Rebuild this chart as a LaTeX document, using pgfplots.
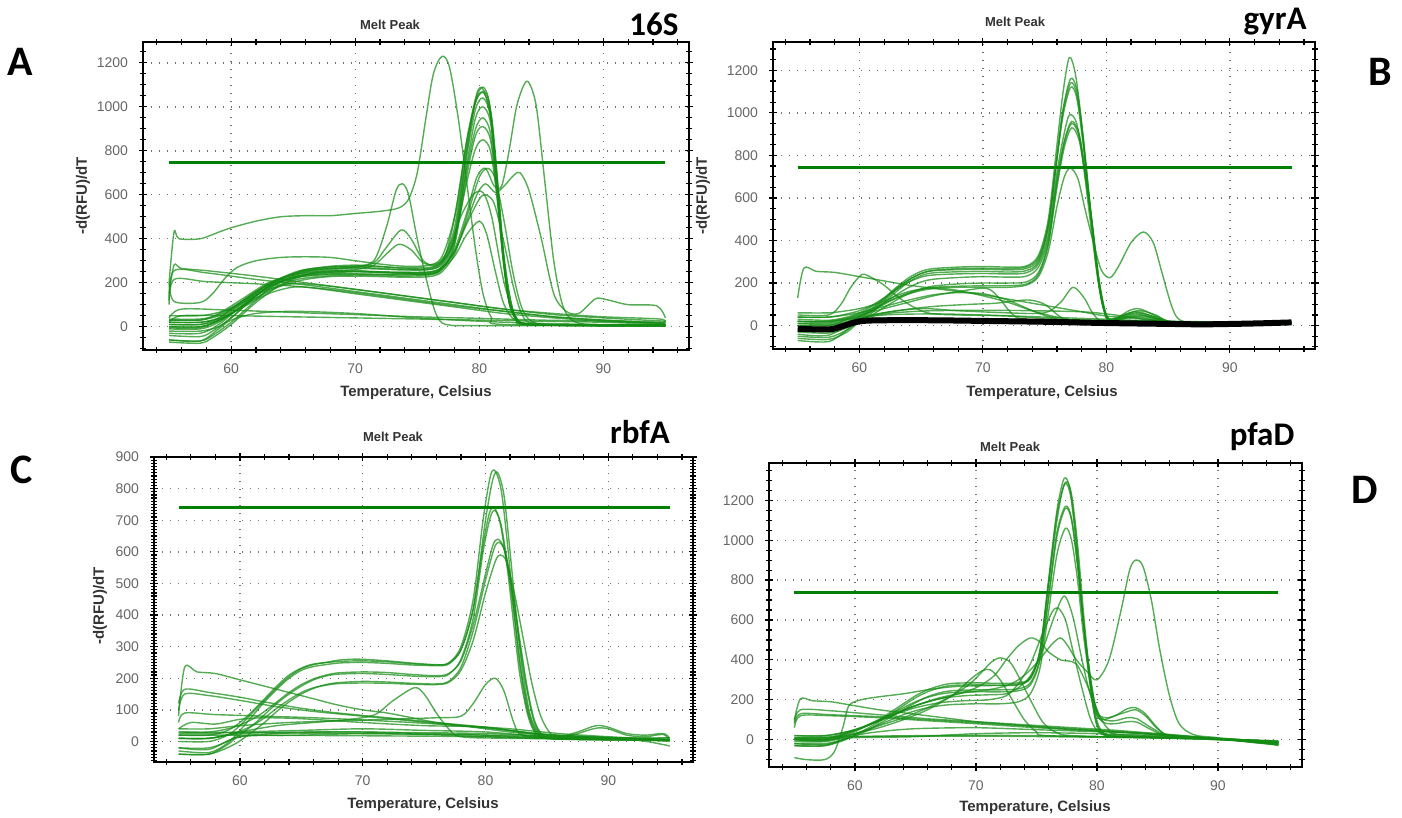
\documentclass[border=0pt]{standalone}
\usepackage{fontspec}
\setmainfont{Liberation Sans}
\newfontfamily\calib{Carlito}
\usepackage{pgfplots}
\pgfplotsset{compat=1.18}
\definecolor{cg}{RGB}{20,140,20}
\definecolor{thr}{RGB}{0,128,0}
\pgfplotsset{
 melt/.style={
  scale only axis, anchor=south west,
  axis line style={line width=0.8pt, black},
  every tick/.style={black, line width=0.6pt},
  tick align=center,
  major tick length=4pt, minor tick length=2.6pt,
  xtick={60,70,80,90}, minor xtick={54,56,...,96},
  grid=major,
  major grid style={black!55, line width=0.7pt, dash pattern=on 0.7pt off 3.3pt},
  ticklabel style={font=\fontsize{7}{8}\selectfont, text=black!60},
  xticklabel style={yshift=-1.5pt},
  yticklabel style={xshift=-2pt},
  /pgf/number format/assume math mode=true,
  /pgf/number format/1000 sep={},
 },
 cv/.style={draw=cg, line width=0.7pt, opacity=0.72, smooth, no markers},
 th/.style={draw=thr, line width=1.5pt, no markers},
}
\begin{document}
\begin{tikzpicture}
\path[use as bounding box] (0,0) rectangle (701pt,-409pt);
% ================= A =================
\begin{axis}[melt, at={(71.5pt,-175pt)}, width=273pt, height=154pt,
 xmin=52.9, xmax=96.9, ymin=-106, ymax=1295,
 ytick={0,200,...,1200}, minor ytick={-100,-50,...,1250}]
\addplot[cv] coordinates {(55,30)(57.5,30)(59,50)(60,80)(61,120)(62,160)(63,195)(64,220)(65,240)(66,255)(68,265)(70,270)(72,265)(74,260)(76,262)(77,290)(78,420)(79,800)(79.7,1030)(80.3,1090)(80.8,1020)(81.3,750)(81.8,400)(82.3,150)(82.8,50)(83.5,15)(86,8)(90,8)(95,8)};
\addplot[cv] coordinates {(55,-40)(57.5,-45)(58.5,-20)(60,40)(61,90)(62,140)(63,185)(64,215)(65,240)(66,260)(68,275)(70,280)(72,275)(74,265)(76,265)(77,300)(78,450)(79,820)(79.7,1020)(80.4,1070)(80.9,990)(81.4,700)(81.9,350)(82.4,120)(83,35)(84,10)(90,5)(95,5)};
\addplot[cv] coordinates {(55,0)(57.5,0)(59,25)(60,60)(61,100)(62,140)(63,175)(64,200)(65,220)(66,235)(68,245)(70,250)(72,248)(74,245)(76,248)(77,275)(78,400)(79,780)(79.7,990)(80.3,1040)(80.9,960)(81.4,680)(81.9,340)(82.4,120)(83,35)(84,10)(90,5)(95,5)};
\addplot[cv] coordinates {(55,50)(57.5,50)(59,65)(60,85)(61,115)(62,150)(63,180)(64,205)(65,220)(66,230)(68,238)(70,240)(72,238)(74,235)(76,240)(77,265)(78,380)(79,740)(79.7,950)(80.3,1000)(80.9,930)(81.4,670)(81.9,340)(82.4,120)(83,35)(84,10)(90,5)(95,5)};
\addplot[cv] coordinates {(55,-60)(57.5,-65)(58.5,-40)(60,20)(61,70)(62,120)(63,170)(64,205)(65,230)(66,248)(68,260)(70,265)(72,262)(74,258)(76,260)(77,285)(78,400)(79,720)(79.7,900)(80.3,950)(80.9,880)(81.4,630)(81.9,320)(82.4,110)(83,30)(84,10)(90,5)(95,5)};
\addplot[cv] coordinates {(55,20)(57.5,20)(59,35)(60,60)(61,95)(62,130)(63,165)(64,190)(65,210)(66,222)(68,232)(70,235)(72,233)(74,230)(76,235)(77,260)(78,370)(79,690)(79.7,870)(80.3,910)(80.9,850)(81.4,620)(81.9,320)(82.4,110)(83,30)(84,10)(90,5)(95,5)};
\addplot[cv] coordinates {(55,-20)(57.5,-20)(59,0)(60,40)(61,90)(62,140)(63,185)(64,220)(65,245)(66,260)(68,272)(70,275)(72,272)(74,268)(76,270)(77,295)(78,400)(79,660)(79.7,810)(80.3,850)(80.9,800)(81.4,600)(81.9,320)(82.4,120)(83,40)(84,10)(90,5)(95,5)};
\addplot[cv] coordinates {(55,10)(57.5,10)(59,30)(60,60)(62,130)(64,185)(66,215)(68,228)(70,230)(72,228)(74,225)(76,228)(77,250)(78,330)(79,500)(80,680)(80.7,720)(81.3,670)(82,480)(82.7,250)(83.4,90)(84.2,25)(86,8)(95,5)};
\addplot[cv] coordinates {(55,-70)(57.5,-75)(58.5,-50)(60,10)(62,110)(64,190)(66,235)(68,250)(70,252)(72,250)(74,248)(76,250)(77,270)(78,340)(79,470)(80,580)(80.5,600)(81.2,560)(82,380)(82.8,170)(83.5,50)(84.5,15)(90,5)(95,5)};
\addplot[cv] coordinates {(55,35)(57.5,35)(59,55)(61,120)(63,190)(65,225)(68,240)(72,238)(76,240)(77,265)(78,320)(79,420)(80,480)(80.6,420)(81.3,250)(82,100)(83,25)(85,8)(95,5)};
\addplot[cv] coordinates {(55,0)(57.5,0)(59,30)(61,110)(63,190)(65,235)(67,260)(70,270)(71.5,290)(72.5,360)(73.7,440)(74.5,400)(75.5,300)(76.5,280)(77.5,350)(78.5,500)(79.5,600)(80.3,610)(81,500)(82,200)(83,40)(84,10)(95,5)};
\addplot[cv] coordinates {(55,-30)(57.5,-30)(59,10)(61,100)(63,180)(65,225)(67,250)(70,260)(71.5,280)(72.5,330)(73.5,375)(74.5,350)(75.5,290)(76.5,285)(77.3,330)(78.2,550)(79,850)(79.8,1040)(80.4,1060)(81,950)(81.5,650)(82,320)(82.6,100)(83.3,20)(86,8)(95,5)};
\addplot[cv] coordinates {(55,20)(57.5,20)(59,40)(60,80)(62,160)(64,220)(66,255)(68,270)(70,275)(71.5,300)(72.5,450)(73.3,620)(73.8,650)(74.3,600)(75,400)(75.8,200)(76.5,60)(77.3,10)(80,5)(95,5)};
\addplot[cv] coordinates {(55,200)(55.4,430)(55.8,400)(57.5,400)(59,430)(60,450)(62,480)(64,500)(66,505)(68,505)(70,515)(72,525)(73.5,540)(74.3,580)(75,700)(75.7,950)(76.3,1150)(77,1230)(77.6,1180)(78.3,950)(79,650)(79.7,350)(80.3,150)(81,40)(82,10)(95,5)};
\addplot[cv] coordinates {(55,30)(57.5,30)(59,60)(61,130)(63,200)(65,235)(67,250)(70,255)(73,245)(76,240)(77,265)(78,350)(79,520)(79.8,680)(80.5,720)(81.2,640)(81.8,640)(82.4,800)(83,1000)(83.6,1100)(84,1110)(84.6,1000)(85.3,650)(86,300)(86.7,100)(87.5,30)(89,10)(95,8)};
\addplot[cv] coordinates {(55,-10)(57.5,-10)(59,20)(61,100)(63,180)(65,225)(67,245)(70,250)(73,245)(76,245)(77,270)(78,340)(79,480)(79.8,600)(80.5,650)(81.3,610)(82,640)(82.8,690)(83.3,700)(84,620)(85,400)(86,150)(87,70)(88,60)(89,110)(89.5,130)(90.5,120)(92,100)(94.3,95)(95,40)};
\addplot[cv] coordinates {(55,200)(55.4,115)(57.5,110)(58.5,150)(59.5,220)(60.5,270)(62,300)(64,315)(66,318)(68,315)(70,300)(72,285)(74,275)(76,280)(77,320)(78,500)(79,850)(79.8,1060)(80.3,1080)(80.9,950)(81.5,600)(82,300)(82.6,100)(83.3,20)(86,8)(95,8)};
\addplot[cv] coordinates {(55,150)(55.4,280)(56,265)(58,255)(62,230)(66,200)(70,170)(74,140)(78,110)(82,80)(86,60)(90,45)(94.5,35)(95,20)};
\addplot[cv] coordinates {(55,120)(55.4,255)(58,245)(62,215)(66,190)(70,160)(74,130)(78,100)(82,70)(86,45)(90,30)(95,20)};
\addplot[cv] coordinates {(55,100)(55.4,215)(58,205)(62,195)(66,180)(70,150)(74,120)(78,90)(82,60)(86,40)(90,25)(95,15)};
\addplot[cv] coordinates {(55,40)(56,80)(60,75)(65,65)(70,55)(75,45)(80,38)(85,30)(90,25)(95,15)};
\addplot[cv] coordinates {(55,20)(56,50)(60,50)(65,45)(70,40)(75,35)(80,30)(85,25)(90,20)(95,10)};
\addplot[cv] coordinates {(55,-60)(57.5,-65)(59,-10)(60,30)(62,60)(65,70)(70,60)(75,40)(80,25)(85,15)(95,5)};
\addplot[cv] coordinates {(55,10)(57.5,10)(59,40)(61,110)(63,170)(65,195)(67,190)(70,170)(74,140)(78,110)(82,80)(86,55)(90,40)(95,25)};
\addplot[cv] coordinates {(55,-5)(57.5,-5)(59,30)(61,90)(63,150)(65,180)(67,175)(70,155)(74,125)(78,95)(82,70)(86,45)(90,30)(95,15)};
\addplot[th] coordinates {(55,745)(95,745)};
\end{axis}
% ================= B =================
\begin{axis}[melt, at={(386.5pt,-174.5pt)}, width=271pt, height=153.5pt,
 xmin=53, xmax=96.9, ymin=-110, ymax=1333,
 ytick={0,200,...,1200}, minor ytick={-100,-50,...,1300}]
\addplot[cv] coordinates {(55,30)(57.5,25)(59,40)(60,60)(61,90)(62,130)(63,180)(64,225)(65,255)(66,268)(68,275)(70,278)(72,275)(73.5,280)(74.5,330)(75.3,500)(76,850)(76.5,1100)(77,1260)(77.5,1180)(78,950)(78.6,600)(79.2,280)(79.7,90)(80.3,30)(81,40)(82.5,60)(84,40)(86,10)(95,10)};
\addplot[cv] coordinates {(55,-30)(57.5,-35)(59,-10)(60,30)(61,70)(62,120)(63,170)(64,215)(65,245)(66,260)(68,268)(70,270)(72,268)(73.5,275)(74.5,320)(75.3,480)(76,800)(76.5,1020)(77.1,1160)(77.6,1110)(78.1,900)(78.7,560)(79.3,250)(79.8,80)(80.3,30)(82.5,70)(84,50)(86,10)(95,10)};
\addplot[cv] coordinates {(55,10)(57.5,5)(59,20)(60,45)(61,80)(62,125)(63,175)(64,215)(65,245)(66,258)(68,263)(70,265)(72,262)(73.5,268)(74.5,310)(75.3,470)(76,790)(76.5,1010)(77.1,1140)(77.6,1090)(78.1,880)(78.7,550)(79.3,240)(79.8,80)(80.3,30)(82.5,50)(84,35)(86,10)(95,12)};
\addplot[cv] coordinates {(55,-60)(57.5,-65)(59,-30)(60,20)(61,60)(62,110)(63,160)(64,205)(65,235)(66,248)(68,253)(70,255)(72,252)(73.5,258)(74.5,300)(75.3,460)(76,780)(76.5,990)(77.1,1120)(77.6,1070)(78.1,860)(78.7,540)(79.3,230)(79.8,75)(80.3,25)(82.5,45)(84,30)(86,10)(95,15)};
\addplot[cv] coordinates {(55,40)(57.5,40)(59,55)(60,70)(61,95)(62,130)(63,170)(64,205)(65,228)(66,238)(68,243)(70,245)(72,243)(73.5,248)(74.5,290)(75.3,430)(76,720)(76.5,880)(77,990)(77.6,950)(78.1,770)(78.7,490)(79.3,220)(79.8,75)(80.3,25)(82.5,40)(86,10)(95,10)};
\addplot[cv] coordinates {(55,0)(57.5,0)(59,15)(60,40)(61,70)(62,105)(63,145)(64,180)(65,205)(66,218)(68,226)(70,230)(72,228)(73.5,232)(74.5,275)(75.3,410)(76,690)(76.6,870)(77.2,960)(77.8,900)(78.3,720)(78.9,460)(79.4,220)(79.9,70)(80.4,25)(82.5,55)(86,10)(95,10)};
\addplot[cv] coordinates {(55,-50)(57.5,-55)(59,-20)(60,20)(61,50)(62,85)(63,120)(64,150)(65,172)(66,186)(68,196)(70,200)(72,200)(73.5,205)(74.5,250)(75.3,390)(76,670)(76.6,860)(77.2,950)(77.8,890)(78.3,710)(78.9,450)(79.4,210)(79.9,65)(80.4,25)(82.5,65)(86,10)(95,10)};
\addplot[cv] coordinates {(55,20)(57.5,20)(59,30)(60,45)(61,70)(62,100)(63,130)(64,155)(65,170)(66,180)(68,185)(70,187)(72,188)(73.5,195)(74.5,240)(75.3,380)(76,650)(76.6,840)(77.2,930)(77.8,870)(78.3,700)(78.9,440)(79.4,200)(79.9,60)(80.4,20)(82.5,80)(86,10)(95,10)};
\addplot[cv] coordinates {(55,60)(57.5,60)(59,70)(60,80)(61,95)(62,115)(63,140)(64,160)(65,172)(66,177)(68,180)(70,180)(72,180)(73.5,190)(74.5,230)(75.3,350)(76,560)(76.6,700)(77.1,740)(77.7,690)(78.3,540)(79,380)(79.6,260)(80.3,225)(81,280)(82,390)(83,440)(83.8,390)(84.5,250)(85.3,90)(86,25)(88,10)(95,10)};
\addplot[cv] coordinates {(55,130)(55.5,270)(56.5,255)(58,250)(60,230)(62,210)(64,190)(66,175)(68,160)(70,145)(72,125)(74,105)(76,85)(78,65)(80,45)(83,30)(86,15)(90,10)(95,15)};
\addplot[cv] coordinates {(55,50)(57.5,50)(58.5,100)(59.3,180)(60.2,240)(61,225)(62,190)(63,140)(64,100)(65,70)(66,55)(68,50)(72,45)(76,30)(80,20)(85,10)(95,10)};
\addplot[cv] coordinates {(55,-20)(57.5,-25)(60,30)(62,60)(65,80)(68,70)(72,60)(75,60)(76.3,110)(77.3,180)(78.2,130)(79,50)(80,20)(85,10)(95,10)};
\addplot[cv] coordinates {(55,20)(57.5,20)(60,50)(62,80)(64,110)(66,140)(68,160)(70.3,175)(71.3,130)(72.3,60)(73.5,30)(80,15)(95,10)};
\addplot[cv] coordinates {(55,10)(57.5,10)(60,40)(63,70)(66,90)(69,100)(71,105)(72.5,115)(73.8,120)(75,100)(76.3,40)(77.5,20)(85,10)(95,10)};
\addplot[cv] coordinates {(55,0)(57.5,0)(59,30)(61,80)(63,130)(65,165)(66.5,175)(68,165)(70,140)(72,110)(74,70)(76,40)(78,25)(85,10)(95,10)};
\addplot[cv] coordinates {(55,40)(57.5,40)(60,60)(62,90)(64,120)(66,145)(68,155)(70,150)(72,120)(74,70)(75.5,40)(78,25)(95,10)};
\addplot[cv] coordinates {(55,-40)(57.5,-45)(60,30)(62,55)(64,65)(66,70)(70,72)(74,70)(78,65)(80,55)(82,40)(85,20)(95,10)};
\addplot[cv] coordinates {(55,-70)(57.5,-75)(59,-20)(60,30)(62,50)(66,55)(70,50)(75,40)(80,30)(85,20)(95,15)};
\addplot[cv] coordinates {(55,20)(57.5,15)(60,35)(70,30)(80,25)(90,15)(95,20)};
\addplot[draw=black, line width=3pt, smooth, no markers] coordinates {(55,-15)(57.5,-18)(58.5,-5)(60,20)(62,25)(66,25)(70,22)(75,18)(80,12)(85,8)(88,6)(92,10)(95,15)};
\addplot[th] coordinates {(55,745)(95,745)};
\end{axis}
% ================= C =================
\begin{axis}[melt, at={(77pt,-381pt)}, width=269.5pt, height=152.5pt,
 xmin=53, xmax=96.9, ymin=-65, ymax=900,
 ytick={0,100,...,900}, minor ytick={-60,-50,...,900}]
\addplot[cv] coordinates {(55,0)(57.5,0)(59,20)(60,50)(61,90)(62,130)(63,170)(64,205)(65,230)(66,243)(67,250)(68,257)(69,260)(70,260)(72,255)(74,248)(76,243)(77,248)(78,300)(79,450)(79.8,700)(80.4,840)(80.8,855)(81.3,790)(81.8,620)(82.3,420)(82.8,240)(83.4,100)(84,35)(85,10)(90,5)(95,5)};
\addplot[cv] coordinates {(55,-30)(57.5,-35)(59,-5)(60,35)(61,80)(62,125)(63,165)(64,200)(65,225)(66,237)(68,248)(70,250)(72,247)(74,242)(76,240)(77,245)(78,290)(79,420)(80,700)(80.6,830)(81,850)(81.5,780)(82,600)(82.5,400)(83,230)(83.6,90)(84.3,30)(85.5,10)(95,5)};
\addplot[cv] coordinates {(55,20)(57.5,20)(59,35)(60,60)(61,95)(62,135)(63,175)(64,210)(65,232)(66,245)(68,253)(70,255)(72,252)(74,246)(76,242)(77,248)(78,290)(79,420)(79.8,620)(80.3,720)(80.7,740)(81.2,690)(81.8,540)(82.3,370)(82.8,210)(83.4,90)(84,30)(85,10)(95,5)};
\addplot[cv] coordinates {(55,-20)(57.5,-20)(59.5,10)(61,50)(62,85)(63,120)(64,150)(65,175)(66,195)(67,207)(68,213)(70,215)(72,212)(74,207)(76,205)(77,212)(78,260)(79,390)(79.8,600)(80.4,710)(80.8,730)(81.3,680)(81.9,530)(82.5,350)(83,200)(83.6,80)(84.3,25)(85.5,8)(95,5)};
\addplot[cv] coordinates {(55,30)(57.5,30)(59.5,45)(61,70)(62,95)(63,125)(64,155)(65,180)(66,198)(67,210)(68,217)(70,220)(72,218)(74,212)(76,208)(77,215)(78,255)(79,370)(80,530)(80.6,620)(81,640)(81.5,610)(82.1,490)(82.7,330)(83.3,180)(83.9,70)(84.6,20)(86,8)(95,5)};
\addplot[cv] coordinates {(55,-40)(57.5,-40)(59.5,-10)(61,30)(62,60)(63,95)(64,125)(65,150)(66,168)(67,180)(68,186)(70,190)(72,188)(74,184)(76,182)(77,190)(78,235)(79,350)(80,510)(80.7,610)(81.1,630)(81.6,600)(82.2,480)(82.8,320)(83.4,170)(84,65)(84.7,20)(86,8)(95,5)};
\addplot[cv] coordinates {(55,10)(57.5,10)(59.5,25)(61,50)(62,75)(63,105)(64,132)(65,155)(66,170)(67,178)(68,183)(70,185)(72,184)(74,181)(76,180)(77,187)(78,225)(79,320)(80,470)(80.8,570)(81.2,590)(81.7,570)(82.4,460)(83.1,320)(83.8,180)(84.5,80)(85.3,25)(86.3,8)(95,5)};
\addplot[cv] coordinates {(55,10)(57.5,10)(60,30)(63,50)(66,60)(69,70)(71,85)(72.5,130)(74.2,170)(75,150)(76,90)(77,40)(78,15)(82,10)(95,5)};
\addplot[cv] coordinates {(55,40)(57.5,40)(60,50)(64,60)(68,65)(72,70)(76,75)(78,80)(79,120)(80,180)(80.8,200)(81.5,160)(82.3,60)(83,20)(86,10)(95,5)};
\addplot[cv] coordinates {(55,80)(55.5,235)(56.5,220)(58,215)(60,195)(62,175)(64,155)(66,135)(68,115)(70,100)(72,90)(74,75)(76,60)(78,50)(80,40)(82,30)(85,20)(90,12)(95,10)};
\addplot[cv] coordinates {(55,120)(55.5,165)(57.5,155)(60,140)(62,125)(65,105)(68,90)(72,75)(76,60)(80,45)(84,25)(88,15)(92,10)(95,5)};
\addplot[cv] coordinates {(55,100)(55.5,150)(57.5,145)(60,130)(63,110)(66,95)(70,80)(74,65)(78,50)(82,35)(86,20)(95,5)};
\addplot[cv] coordinates {(55,60)(55.5,90)(58,85)(62,80)(66,75)(70,68)(74,60)(78,50)(82,40)(86,25)(90,15)(95,5)};
\addplot[cv] coordinates {(55,40)(56,60)(58,55)(60,70)(62,75)(65,72)(70,60)(75,50)(80,45)(85,20)(95,5)};
\addplot[cv] coordinates {(55,10)(57.5,10)(60,25)(65,30)(70,30)(75,25)(80,20)(84,12)(86,15)(87.5,30)(89,50)(90,45)(91.5,25)(93,20)(94.5,25)(95,10)};
\addplot[cv] coordinates {(55,-20)(57.5,-25)(60,15)(65,20)(70,25)(75,22)(80,15)(84,10)(86,12)(87.5,25)(89,42)(90,40)(91.5,20)(93,15)(94.5,22)(95,0)};
\addplot[cv] coordinates {(55,-40)(57.5,-40)(59,-10)(60,15)(63,25)(68,30)(74,28)(80,25)(86,15)(92,5)(94.5,-10)(95,-15)};
\addplot[cv] coordinates {(55,25)(57.5,25)(60,30)(65,35)(70,40)(75,35)(80,30)(85,15)(90,10)(95,0)};
\addplot[cv] coordinates {(55,20)(60,20)(70,18)(80,15)(90,8)(95,5)};
\addplot[cv] coordinates {(55,30)(60,28)(70,25)(80,20)(90,10)(95,12)};
\addplot[th] coordinates {(55,740)(95,740)};
\end{axis}
% ================= D =================
\begin{axis}[melt, at={(384.5pt,-383.5pt)}, width=266.5pt, height=152pt,
 xmin=52.9, xmax=96.95, ymin=-137, ymax=1387,
 ytick={0,200,...,1200}, minor ytick={-100,-50,...,1350}]
\addplot[cv] coordinates {(55,0)(57.5,-5)(59,20)(60,40)(61,70)(62,100)(63,140)(64,180)(65,220)(66,250)(67,270)(68,282)(70,285)(72,282)(73.5,285)(74.5,310)(75.3,450)(76,800)(76.7,1150)(77.3,1310)(77.8,1250)(78.3,1000)(78.8,650)(79.3,350)(79.8,130)(80.3,40)(81,20)(83,15)(86,10)(90,5)(95,-15)};
\addplot[cv] coordinates {(55,-20)(57.5,-25)(59,0)(60,25)(61,55)(62,90)(63,130)(64,170)(65,210)(66,240)(67,260)(68,272)(70,275)(72,273)(73.5,278)(74.5,305)(75.3,440)(76,780)(76.7,1130)(77.4,1290)(77.9,1230)(78.4,980)(78.9,630)(79.4,330)(79.9,120)(80.4,40)(81,20)(83,15)(86,10)(90,5)(95,-10)};
\addplot[cv] coordinates {(55,-90)(56,-100)(57.5,-100)(58.3,-60)(59,60)(59.5,170)(60.5,200)(62,215)(64,230)(66,250)(68,265)(70,270)(72,272)(73.5,275)(74.5,310)(75.3,450)(76,780)(76.7,1100)(77.3,1280)(77.8,1230)(78.3,980)(78.8,640)(79.3,340)(79.8,120)(80.3,40)(82,20)(90,5)(95,-10)};
\addplot[cv] coordinates {(55,-30)(57.5,-30)(59,-5)(60,20)(61,45)(62,80)(63,115)(64,150)(65,185)(66,215)(67,235)(68,245)(70,250)(72,250)(73.5,255)(74.5,285)(75.3,410)(76,720)(76.7,1040)(77.4,1170)(77.9,1110)(78.4,880)(78.9,580)(79.5,300)(80,140)(80.6,100)(81.5,95)(82.5,110)(83.3,105)(84.5,60)(86,20)(90,5)(95,-20)};
\addplot[cv] coordinates {(55,20)(57.5,20)(59,35)(60,50)(61,70)(62,100)(63,130)(64,160)(65,190)(66,212)(67,228)(68,236)(70,240)(72,240)(73.5,245)(74.5,275)(75.3,400)(76,700)(76.7,1020)(77.4,1160)(77.9,1100)(78.4,870)(78.9,570)(79.5,290)(80,130)(80.6,85)(81.5,80)(82.5,90)(83.3,88)(84.5,50)(86,15)(90,5)(95,-15)};
\addplot[cv] coordinates {(55,-10)(57.5,-10)(59,10)(60,30)(61,50)(62,75)(63,100)(64,125)(65,145)(66,160)(67,170)(68,176)(70,180)(72,180)(73.5,190)(74.5,230)(75.3,360)(76,640)(76.7,930)(77.4,1060)(77.9,1000)(78.4,800)(78.9,520)(79.5,270)(80,140)(80.6,110)(81.5,120)(82.5,155)(83.2,160)(84,130)(85,60)(86,20)(90,5)(95,-25)};
\addplot[cv] coordinates {(55,5)(57.5,5)(59,25)(61,70)(63,120)(65,170)(67,205)(69,220)(71,225)(72.5,230)(73.5,260)(74.5,320)(75.5,450)(76.5,620)(77.3,720)(78,620)(78.7,420)(79.3,260)(80,120)(80.6,100)(81.5,120)(82.5,140)(83.2,150)(84,120)(85,55)(86,20)(88,10)(95,-15)};
\addplot[cv] coordinates {(55,10)(57.5,10)(59,30)(61,70)(63,120)(65,160)(67,185)(69,195)(71,200)(72.5,220)(73.5,280)(74.5,380)(75.5,530)(76.3,640)(76.8,660)(77.4,600)(78,450)(78.8,250)(79.5,100)(80.3,30)(82,15)(90,5)(95,-10)};
\addplot[cv] coordinates {(55,0)(57.5,0)(59,25)(61,70)(63,120)(65,170)(67,210)(69,235)(71,250)(72.5,270)(73.5,300)(74.5,350)(75.5,420)(76.3,480)(77,510)(77.6,470)(78.3,400)(79.2,340)(80,300)(81,400)(82,650)(82.7,850)(83.2,900)(83.8,870)(84.5,700)(85.2,450)(86,220)(86.8,80)(88,25)(90,10)(95,-20)};
\addplot[cv] coordinates {(55,20)(57.5,20)(60,50)(62,100)(64,150)(66,190)(68,220)(70,260)(71.5,320)(72.5,400)(73.5,470)(74.5,510)(75.3,490)(76,440)(77,400)(77.6,395)(78.3,380)(79,300)(79.7,200)(80.3,110)(81,50)(82,25)(90,5)(95,-10)};
\addplot[cv] coordinates {(55,5)(57.5,5)(60,30)(62,70)(64,110)(66,160)(68,220)(69.5,280)(70.5,340)(71.3,390)(72,410)(72.8,390)(73.5,320)(74.5,200)(75.5,90)(76.5,40)(78,20)(85,10)(95,-5)};
\addplot[cv] coordinates {(55,0)(57.5,-5)(60,30)(62,60)(64,100)(66,150)(68,220)(69.5,300)(70.5,345)(71.2,350)(72,300)(73,200)(74,100)(75,40)(76,20)(85,10)(95,-10)};
\addplot[cv] coordinates {(55,100)(55.5,205)(56.5,195)(58,190)(60,170)(62,150)(64,135)(66,120)(68,105)(70,90)(72,80)(75,65)(78,50)(81,40)(84,30)(87,15)(90,5)(93,-15)(95,-25)};
\addplot[cv] coordinates {(55,90)(55.5,150)(58,145)(60,135)(63,120)(66,105)(70,90)(74,75)(78,60)(82,45)(86,25)(90,5)(94,-20)(95,-30)};
\addplot[cv] coordinates {(55,80)(55.5,130)(58,125)(62,115)(66,100)(70,85)(74,70)(78,55)(82,40)(86,20)(90,5)(94,-15)(95,-20)};
\addplot[cv] coordinates {(55,60)(55.5,120)(58,120)(62,110)(66,95)(70,80)(75,60)(80,45)(85,25)(90,5)(95,-20)};
\addplot[cv] coordinates {(55,-20)(57.5,-20)(59,0)(60,15)(65,20)(70,22)(75,20)(80,15)(85,10)(90,0)(95,-15)};
\addplot[cv] coordinates {(55,10)(60,15)(70,18)(80,12)(90,2)(95,-10)};
\addplot[cv] coordinates {(55,-30)(57.5,-30)(60,20)(62,40)(65,55)(70,60)(75,50)(80,40)(85,30)(90,5)(95,-25)};
\addplot[cv] coordinates {(55,0)(57.5,0)(60,10)(65,15)(70,30)(75,35)(80,30)(85,20)(90,0)(95,-15)};
\addplot[th] coordinates {(55,740)(95,740)};
\end{axis}
% ================= texts =================
\tikzset{mp/.style={font=\bfseries\fontsize{6.5}{7}\selectfont, text=black!80},
 xl/.style={font=\bfseries\fontsize{7.5}{8}\selectfont, text=black!80},
 gn/.style={font=\calib\bfseries\fontsize{16.5}{18}\selectfont},
 pl/.style={font=\calib\bfseries\fontsize{21}{22}\selectfont}}
\node[mp] at (195pt,-12.5pt) {Melt Peak};
\node[mp] at (507.5pt,-11pt) {Melt Peak};
\node[mp] at (196.5pt,-218.5pt) {Melt Peak};
\node[mp] at (505pt,-223.5pt) {Melt Peak};
\node[gn] at (327pt,-12pt) {16S};
\node[gn] at (637.5pt,-11pt) {gyrA};
\node[gn] at (320pt,-216pt) {rbfA};
\node[gn] at (631pt,-218.5pt) {pfaD};
\node[pl] at (10pt,-31pt) {A};
\node[pl] at (690pt,-36pt) {B};
\node[pl] at (11pt,-235pt) {C};
\node[pl] at (682.5pt,-245pt) {D};
\node[xl] at (208pt,-196.5pt) {Temperature, Celsius};
\node[xl] at (521pt,-196.5pt) {Temperature, Celsius};
\node[xl] at (211.5pt,-402.5pt) {Temperature, Celsius};
\node[xl] at (517.5pt,-404pt) {Temperature, Celsius};
\node[xl, rotate=90] at (41.5pt,-98pt) {-d(RFU)/dT};
\node[xl, rotate=90] at (351.5pt,-98pt) {-d(RFU)/dT};
\node[xl, rotate=90] at (50pt,-303pt) {-d(RFU)/dT};
\end{tikzpicture}
\end{document}
